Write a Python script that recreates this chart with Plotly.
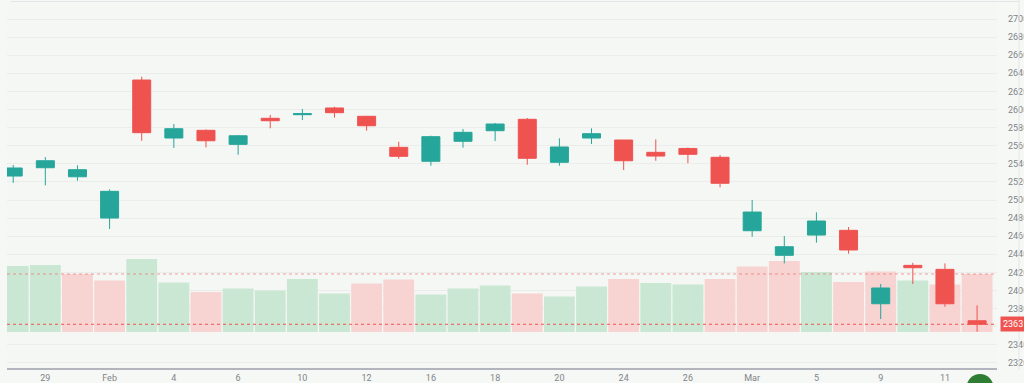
import plotly.graph_objects as go

# ---- data ----
dates = ["2026-01-28", "2026-01-29", "2026-01-30", "2026-02-02", "2026-02-03", "2026-02-04",
         "2026-02-05", "2026-02-06", "2026-02-09", "2026-02-10", "2026-02-11", "2026-02-12",
         "2026-02-13", "2026-02-16", "2026-02-17", "2026-02-18", "2026-02-19", "2026-02-20",
         "2026-02-23", "2026-02-24", "2026-02-25", "2026-02-26", "2026-02-27", "2026-03-02",
         "2026-03-04", "2026-03-05", "2026-03-06", "2026-03-09", "2026-03-10", "2026-03-11",
         "2026-03-12"]

opens = [2526.5, 2535.7, 2525.7, 2480.1, 2632.6, 2568.5, 2577.0, 2561.5, 2590.3, 2594.3,
         2601.7, 2592.5, 2558.2, 2542.8, 2564.9, 2576.6, 2589.2, 2541.7, 2568.5, 2566.3,
         2552.7, 2557.0, 2547.2, 2466.1, 2438.9, 2461.3, 2466.5, 2385.4, 2427.8, 2423.4,
         2366.6]
highs = [2538.7, 2547.5, 2538.3, 2511.8, 2636.2, 2584.0, 2578.0, 2571.8, 2594.0, 2600.6,
         2603.1, 2593.0, 2564.4, 2571.1, 2578.5, 2585.1, 2590.6, 2568.2, 2579.2, 2566.5,
         2567.0, 2558.0, 2549.7, 2500.0, 2460.2, 2486.4, 2470.2, 2407.2, 2430.7, 2430.0,
         2383.6]
lows = [2519.0, 2516.2, 2521.3, 2468.0, 2565.5, 2557.5, 2558.2, 2550.0, 2579.2, 2588.4,
        2591.0, 2576.6, 2545.6, 2537.9, 2557.8, 2565.2, 2539.0, 2537.9, 2561.9, 2533.1,
        2543.4, 2540.6, 2514.0, 2459.4, 2430.0, 2452.8, 2440.7, 2368.5, 2407.2, 2382.0,
        2354.5]
closes = [2535.4, 2543.4, 2533.5, 2509.6, 2574.4, 2578.8, 2565.5, 2571.0, 2587.6, 2595.4,
          2596.5, 2582.1, 2548.3, 2570.0, 2574.8, 2584.0, 2546.1, 2558.6, 2573.3, 2543.4,
          2548.6, 2550.5, 2518.5, 2486.7, 2448.4, 2476.8, 2444.8, 2402.8, 2425.2, 2385.4,
          2362.7]
volumes_m = [3.30, 3.35, 2.90, 2.58, 3.65, 2.47, 2.00, 2.17, 2.08, 2.65, 1.93, 2.42, 2.63,
             1.87, 2.17, 2.32, 1.93, 1.77, 2.28, 2.65, 2.45, 2.38, 2.65, 3.27, 3.55, 3.00,
             2.50, 3.03, 2.57, 2.37, 2.90]

tick_dates = ["2026-01-29", "2026-02-02", "2026-02-04", "2026-02-06", "2026-02-10",
              "2026-02-12", "2026-02-16", "2026-02-18", "2026-02-20", "2026-02-24",
              "2026-02-26", "2026-03-02", "2026-03-05", "2026-03-09", "2026-03-11"]
tick_labels = ["29", "Feb", "4", "6", "10", "12", "16", "18", "20", "24", "26", "Mar",
               "5", "9", "11"]

last_price_label = "2363"

# ---- styles ----
UP = "#26a69a"
DOWN = "#ef5350"
VOL_UP = "#c9e7d3"
VOL_DOWN = "#f7d3d2"

vol_colors = []
for i, c in enumerate(closes):
    prev = closes[i - 1] if i > 0 else opens[0]
    vol_colors.append(VOL_UP if c >= prev else VOL_DOWN)

fig = go.Figure()

fig.add_trace(go.Bar(
    x=dates, y=volumes_m, marker=dict(color=vol_colors, line=dict(width=0)),
    yaxis="y", hoverinfo="skip", showlegend=False))

fig.add_trace(go.Candlestick(
    x=dates, open=opens, high=highs, low=lows, close=closes, yaxis="y2",
    increasing=dict(line=dict(color=UP, width=1), fillcolor=UP),
    decreasing=dict(line=dict(color=DOWN, width=1), fillcolor=DOWN),
    whiskerwidth=0, hoverinfo="skip", showlegend=False))

# geometry helpers (pixel -> paper)
L, R, T, B = 7, 27, 3, 15
W, H = 1024, 383
pw, ph = W - L - R, H - T - B


def px(xp):
    return (xp - L) / pw


def py(yp):
    return (H - B - yp) / ph


shapes = [
    # last price dotted line
    dict(type="line", xref="paper", x0=0, x1=1, yref="y2", y0=closes[-1], y1=closes[-1],
         line=dict(color=DOWN, width=1, dash="dot"), layer="above"),
    # last volume dotted line
    dict(type="line", xref="paper", x0=0, x1=1, yref="y", y0=volumes_m[-1], y1=volumes_m[-1],
         line=dict(color="rgba(239,83,80,0.55)", width=1, dash="dot"), layer="above"),
    # top border line
    dict(type="line", xref="paper", yref="paper", x0=px(10), x1=px(1019), y0=py(1.5), y1=py(1.5),
         line=dict(color="#e2e5e8", width=1)),
    # right border line
    dict(type="line", xref="paper", yref="paper", x0=px(1019), x1=px(1019), y0=py(0), y1=py(370),
         line=dict(color="#e2e5e8", width=1)),
    # green round button at bottom right
    dict(type="circle", xref="paper", yref="paper", x0=px(966.5), x1=px(993.5),
         y0=py(401), y1=py(374), fillcolor="#2e7d32", line=dict(width=0)),
]

annotations = [
    dict(xref="paper", x=px(1000), xanchor="left", yref="y2", y=closes[-1], yanchor="middle",
         text=last_price_label, showarrow=False, bgcolor=DOWN, borderpad=2,
         font=dict(color="white", size=9, family="Roboto")),
]

fig.update_layout(
    width=W, height=H,
    margin=dict(l=L, r=R, t=T, b=B, autoexpand=False),
    paper_bgcolor="#f6f8f6",
    plot_bgcolor="#f5f7f5",
    bargap=0.04,
    boxgap=0.2,
    showlegend=False,
    font=dict(family="Roboto", size=9, color="#808488"),
    xaxis=dict(
        type="category", range=[-0.193, 30.62], rangeslider=dict(visible=False),
        tickmode="array", tickvals=tick_dates, ticktext=tick_labels,
        showgrid=False, showline=True, linecolor="#b2b5be", linewidth=2,
        ticks="", ticklabelstandoff=0, automargin=False,
        tickfont=dict(size=9, color="#808488"), fixedrange=True),
    yaxis=dict(range=[-1.8, 16.45], visible=False, showgrid=False, fixedrange=True,
               automargin=False),
    yaxis2=dict(
        overlaying="y", side="right", anchor="x", range=[2314.4, 2717.7],
        dtick=20, tick0=2300, showgrid=True, gridcolor="#eaedea", gridwidth=1,
        zeroline=False, ticks="", ticklabelstandoff=10, automargin=False,
        tickfont=dict(size=9, color="#808488"), fixedrange=True),
    shapes=shapes,
    annotations=annotations,
)

fig.write_html(
    "out.html",
    config={"displayModeBar": False},
    post_script="document.body.style.margin='0';document.body.style.overflow='hidden';",
)
